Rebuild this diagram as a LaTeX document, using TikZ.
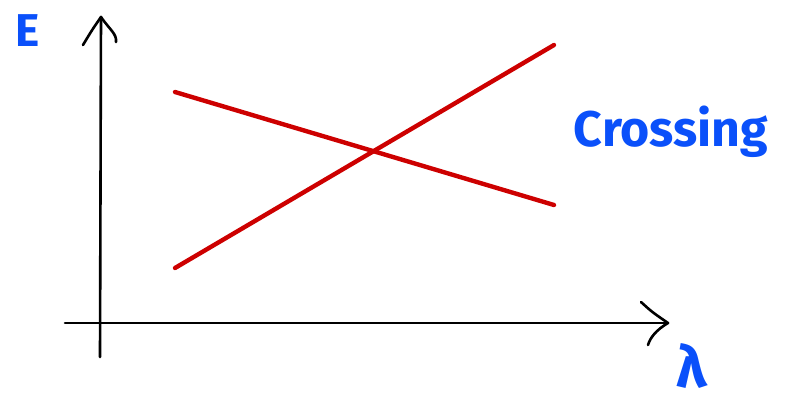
\documentclass[tikz,border=0pt]{standalone}
\usepackage{fontspec}
\setmainfont{Fira Sans}
\definecolor{penblue}{RGB}{10,80,250}
\definecolor{penred}{RGB}{205,0,0}
\tikzset{
  axis/.style={black,line width=2.6pt,line cap=round,line join=round},
  level/.style={penred,line width=4.4pt,line cap=round},
  label/.style={penblue,inner sep=0pt,anchor=center}
}
\begin{document}
\begin{tikzpicture}[x=1pt,y=-1pt]
\useasboundingbox (0,0) rectangle (789,402);
% axes
\coordinate (ybot) at (100,357);
\coordinate (ytop) at (101,17);
\coordinate (xleft) at (65,323);
\coordinate (xright) at (668,323);
\draw[axis] (ybot) -- (ytop);
\draw[axis] (83,45) .. controls (92,30) .. (ytop) .. controls (110,30) and (117,34) .. (116,42);
\draw[axis] (xleft) -- (xright);
\draw[axis] (641,302) .. controls (652,312) .. (xright) .. controls (656,330) and (650,338) .. (648,345);
% levels
\coordinate (a1) at (175,92);
\coordinate (a2) at (554,205);
\coordinate (b1) at (175,268);
\coordinate (b2) at (554,45);
\draw[level] (a1) -- (a2);
\draw[level] (b1) -- (b2);
% labels
\node[label,font=\bfseries\fontsize{46}{46}\selectfont] (E) at (28,31) {E};
\node[label,font=\bfseries\fontsize{50}{50}\selectfont] (cross) at (671,132) {Crossing};
\node[label,font=\bfseries\fontsize{58}{58}\selectfont] (lam) at (692,366) {λ};
\end{tikzpicture}
\end{document}
